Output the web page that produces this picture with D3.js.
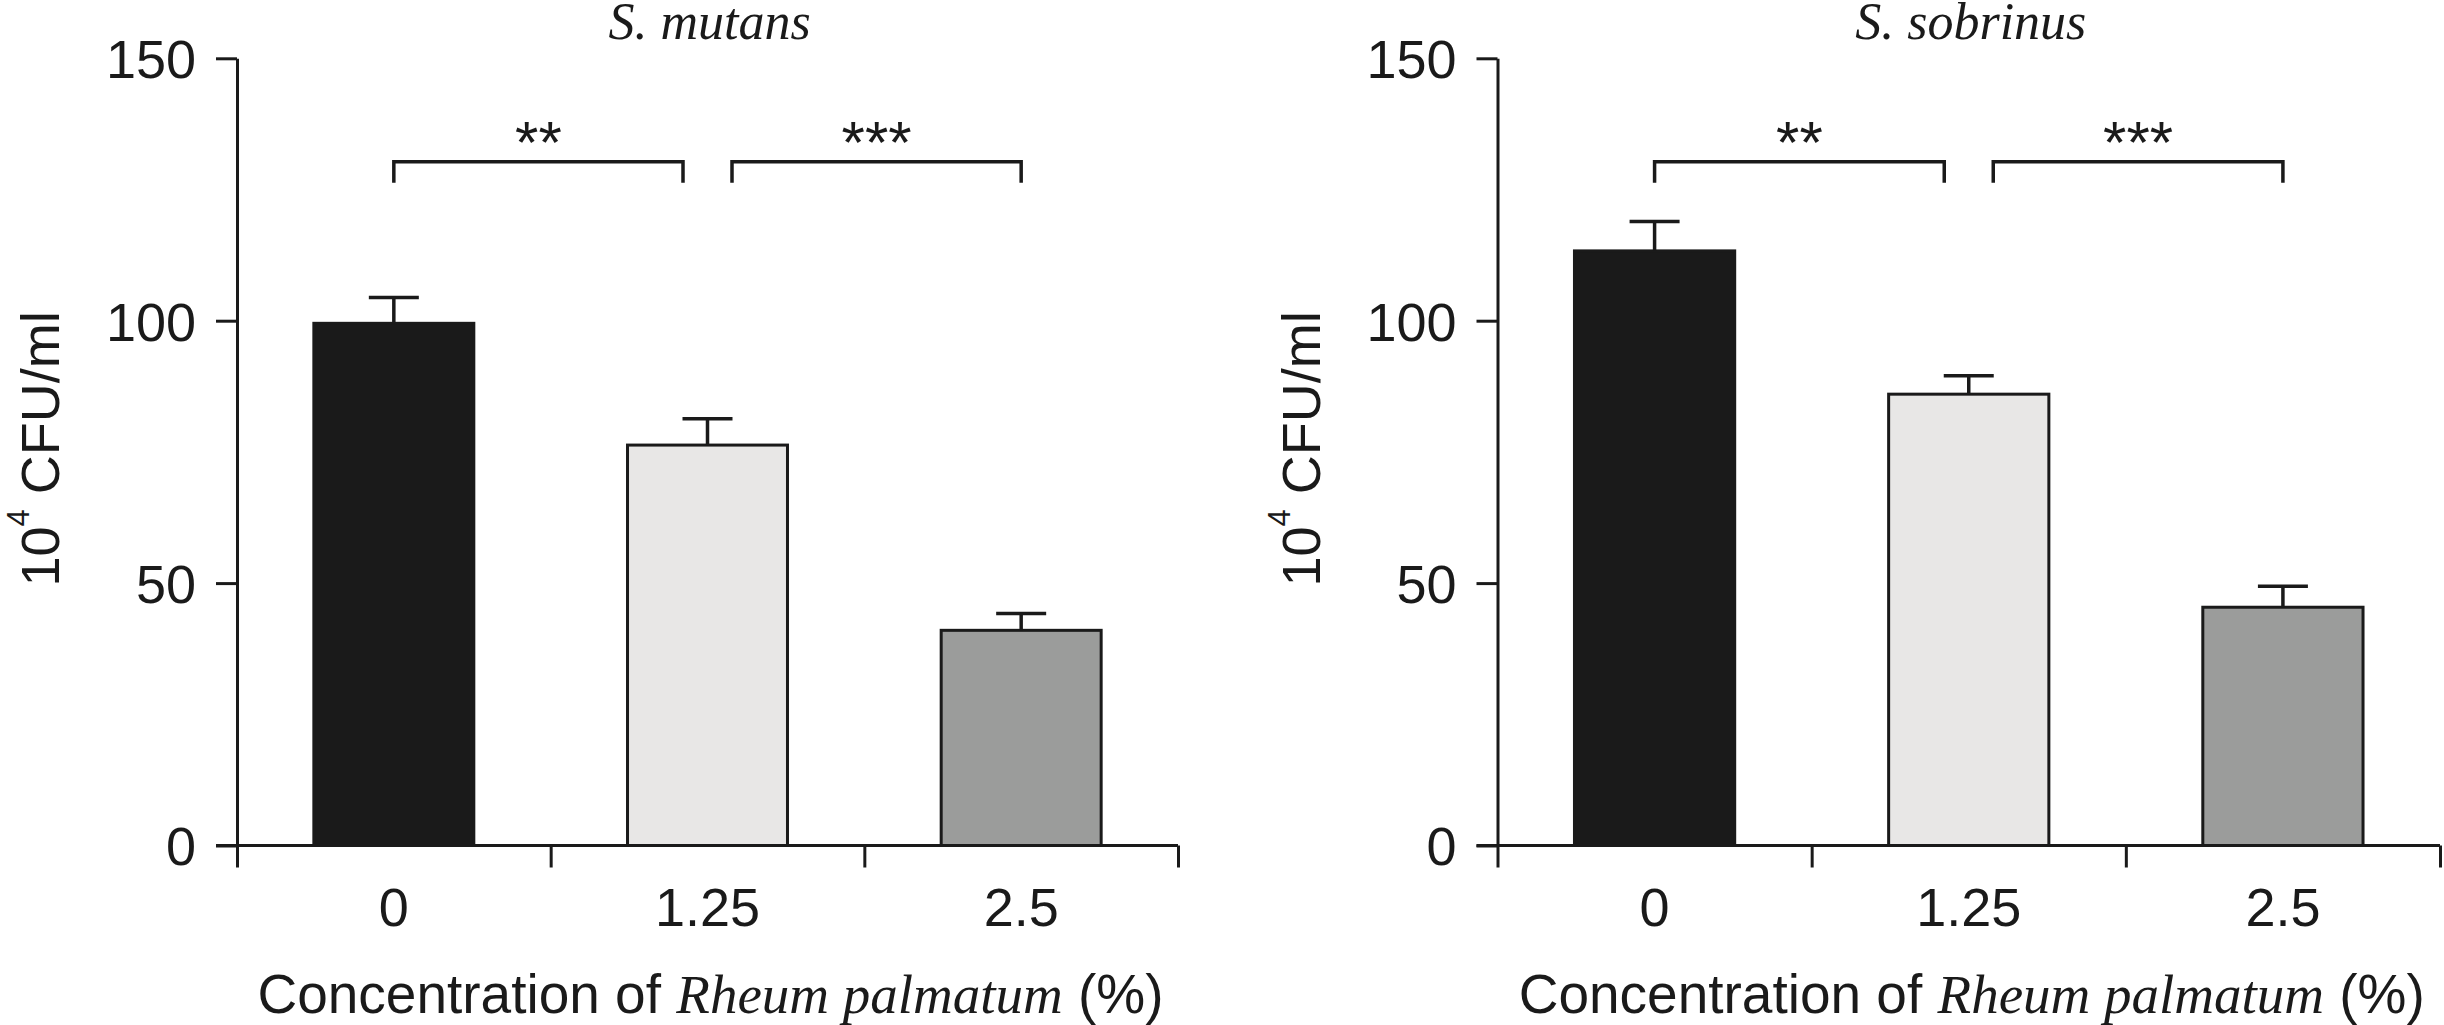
<!DOCTYPE html>
<html>
<head>
<meta charset="utf-8">
<script src="https://cdn.jsdelivr.net/npm/d3@7"></script>
<style>
  html, body { margin: 0; padding: 0; background: #fff; }
  svg { display: block; }
</style>
</head>
<body>
<svg id="chart" width="2444" height="1025"></svg>
<script>
// ---- data ----
const categories = ["0", "1.25", "2.5"];
const panelTitles = ["S. mutans", "S. sobrinus"];
const mutansMeans = [99.5, 76.3, 41.0];
const mutansErrors = [4.9, 5.0, 3.2];
const sobrinusMeans = [113.3, 86.0, 45.4];
const sobrinusErrors = [5.6, 3.5, 4.0];
const yTicks = [0, 50, 100, 150];
const sigLabels = ["**", "***"];
const barColors = ["#1a1a1a", "#e8e7e6", "#9b9c9b"];

const panels = [
  { title: panelTitles[0], means: mutansMeans, errors: mutansErrors, x0: 237, x1: 1178 },
  { title: panelTitles[1], means: sobrinusMeans, errors: sobrinusErrors, x0: 1497.5, x1: 2440 }
];

const svg = d3.select("#chart");
const sans = "'Liberation Sans', Arial, sans-serif";
const serif = "'Liberation Serif', 'Times New Roman', serif";
const ink = "#1a1a1a";
const yTop = 58.3, yBottom = 845.5;

const y = d3.scaleLinear().domain([0, 150]).range([yBottom, yTop]);

panels.forEach(p => {
  const g = svg.append("g");
  const x = d3.scaleBand().domain(categories).range([p.x0, p.x1])
    .paddingInner(0.49).paddingOuter(0.245);
  const xEdge = d3.scaleLinear().domain([0, categories.length]).range([p.x0, p.x1]);

  // bars
  g.selectAll("rect.bar").data(p.means).enter().append("rect")
    .attr("class", "bar")
    .attr("x", (d, i) => x(categories[i]))
    .attr("width", x.bandwidth())
    .attr("y", d => y(d))
    .attr("height", d => y(0) - y(d))
    .attr("fill", (d, i) => barColors[i])
    .attr("stroke", ink)
    .attr("stroke-width", 3);

  // error bars (upper only)
  const cx = i => x(categories[i]) + x.bandwidth() / 2;
  g.selectAll("line.err").data(p.means).enter().append("line")
    .attr("x1", (d, i) => cx(i)).attr("x2", (d, i) => cx(i))
    .attr("y1", d => y(d)).attr("y2", (d, i) => y(d + p.errors[i]))
    .attr("stroke", ink).attr("stroke-width", 3.5);
  g.selectAll("line.cap").data(p.means).enter().append("line")
    .attr("x1", (d, i) => cx(i) - 25).attr("x2", (d, i) => cx(i) + 25)
    .attr("y1", (d, i) => y(d + p.errors[i])).attr("y2", (d, i) => y(d + p.errors[i]))
    .attr("stroke", ink).attr("stroke-width", 3.5);

  // y axis
  const yAxis = d3.axisLeft(y).tickValues(yTicks).tickSize(21).tickSizeOuter(0).tickPadding(20);
  const ya = g.append("g").attr("transform", `translate(${p.x0},0)`).call(yAxis);
  ya.select(".domain").attr("stroke", ink).attr("stroke-width", 3);
  ya.selectAll(".tick line").attr("stroke", ink).attr("stroke-width", 3);
  ya.selectAll(".tick text").attr("font-family", sans).attr("font-size", 54)
    .attr("fill", ink).attr("dy", "0.36em");

  // x axis: boundary ticks
  const xAxisTicks = d3.axisBottom(xEdge).tickValues(d3.range(categories.length + 1))
    .tickSize(22).tickSizeOuter(0).tickFormat("");
  const xa = g.append("g").attr("transform", `translate(0,${yBottom})`).call(xAxisTicks);
  xa.select(".domain").attr("stroke", ink).attr("stroke-width", 3)
    .attr("d", `M${p.x0 - 21},0H${p.x1}`);
  xa.selectAll(".tick line").attr("stroke", ink).attr("stroke-width", 3);

  // x axis labels at band centers
  const xLabels = d3.axisBottom(x).tickSize(0).tickPadding(42);
  const xl = g.append("g").attr("transform", `translate(0,${yBottom})`).call(xLabels);
  xl.select(".domain").remove();
  xl.selectAll(".tick text").attr("font-family", sans).attr("font-size", 54).attr("fill", ink);

  // significance brackets
  const level = 130.3, drop = 4;
  const brackets = [
    { a: cx(0), b: cx(1) - 24.5, label: sigLabels[0] },
    { a: cx(1) + 24.5, b: cx(2), label: sigLabels[1] }
  ];
  brackets.forEach(br => {
    g.append("path")
      .attr("d", `M${br.a},${y(level - drop)}V${y(level)}H${br.b}V${y(level - drop)}`)
      .attr("fill", "none").attr("stroke", ink).attr("stroke-width", 3.5);
    g.append("text").attr("x", (br.a + br.b) / 2).attr("y", y(level) + 1)
      .attr("text-anchor", "middle").attr("font-family", sans).attr("font-size", 60)
      .attr("fill", ink).text(br.label);
  });

  const mid = (p.x0 + p.x1) / 2;

  // title
  g.append("text").attr("x", mid + 2).attr("y", 39)
    .attr("text-anchor", "middle").attr("font-family", serif).attr("font-style", "italic")
    .attr("font-size", 52).attr("fill", ink).text(p.title);

  // x axis title
  const xt = g.append("text").attr("x", mid + 3).attr("y", 1013)
    .attr("text-anchor", "middle").attr("font-family", sans).attr("font-size", 55).attr("fill", ink);
  xt.append("tspan").text("Concentration of ");
  xt.append("tspan").attr("font-family", serif).attr("font-style", "italic").text("Rheum palmatum");
  xt.append("tspan").text(" (%)");

  // y axis title
  const yt = g.append("text")
    .attr("transform", `translate(${p.x0 - 178},${(yTop + yBottom) / 2 - 3}) rotate(-90)`)
    .attr("text-anchor", "middle").attr("font-family", sans).attr("font-size", 54).attr("fill", ink);
  yt.append("tspan").text("10");
  yt.append("tspan").attr("font-size", 31).attr("dy", -30).text("4");
  yt.append("tspan").attr("dy", 30).text(" CFU/ml");
});
</script>
</body>
</html>
